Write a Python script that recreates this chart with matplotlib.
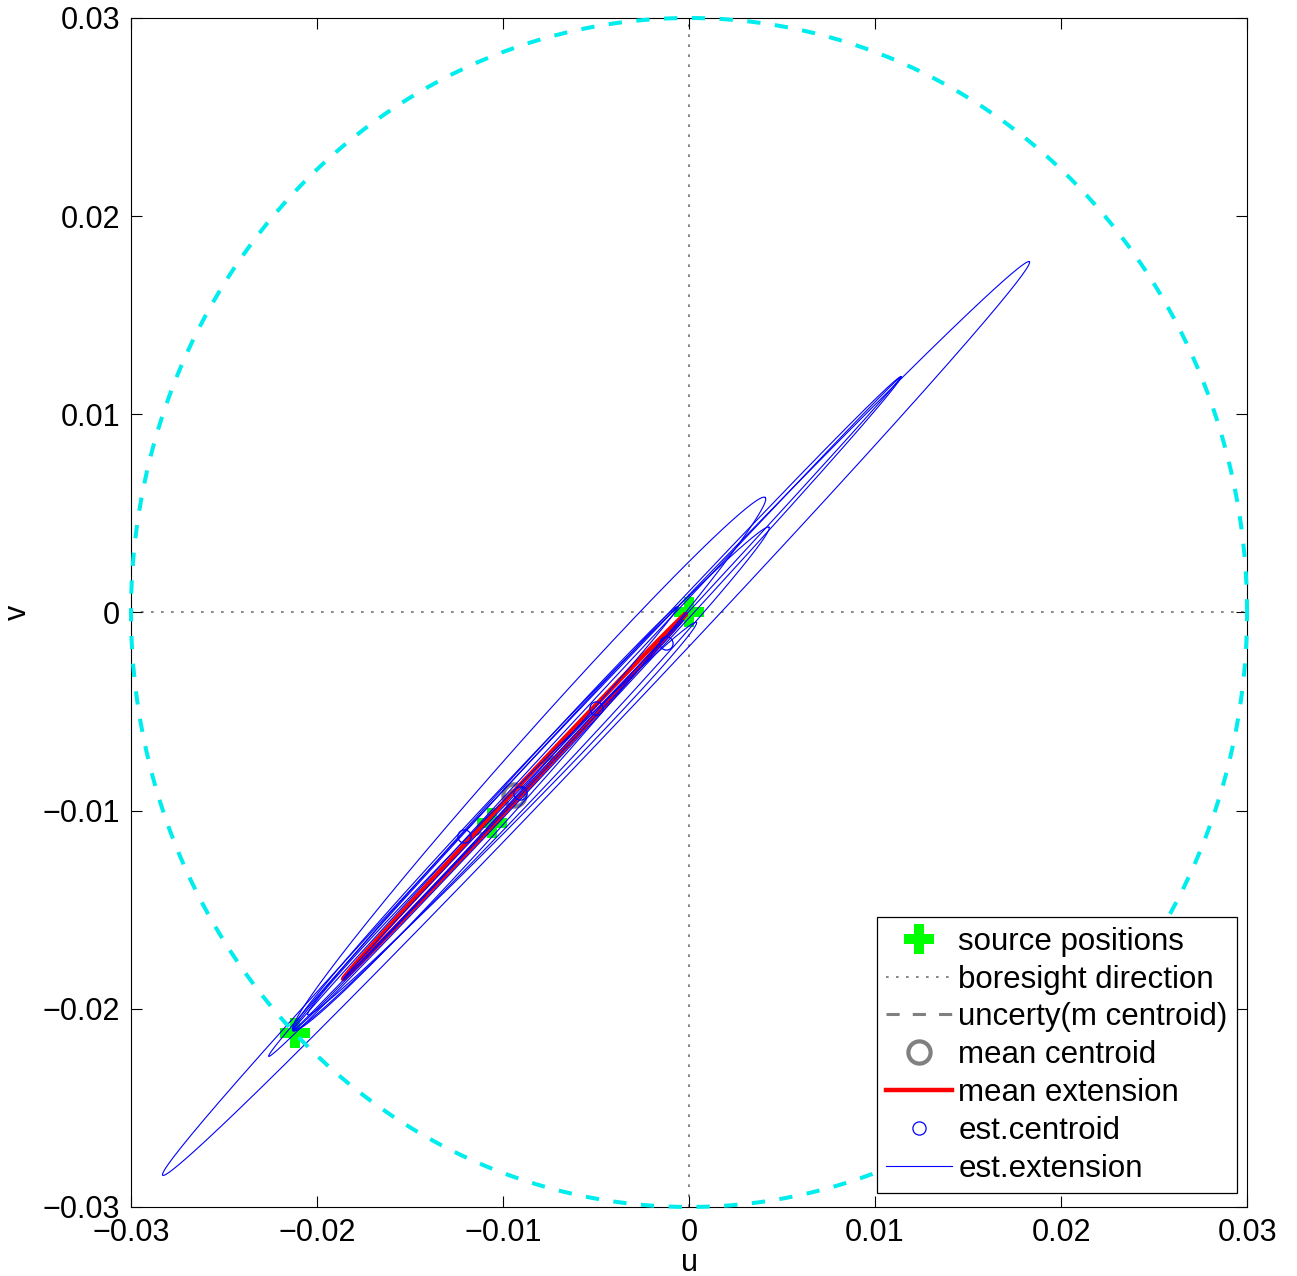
import numpy as np
import matplotlib
matplotlib.use('Agg')
import matplotlib.pyplot as plt

plt.rcParams['font.family'] = ['Liberation Sans', 'DejaVu Sans']

# ---------------- data ----------------
source_u = [0.0, -0.0106, -0.0212]
source_v = [0.0, -0.0106, -0.0212]

boresight_u = [-0.03, 0.03]
boresight_v = [-0.03, 0.03]

fov_radius = 0.03

mean_centroid_u = [-0.0094]
mean_centroid_v = [-0.0092]

# uncertainty of mean centroid (ellipse given by its two tips and semi-minor axis)
uncert_tip_u = [-0.0115, -0.0073]
uncert_tip_v = [-0.0112, -0.0073]
uncert_minor = 0.00025

# mean extension ellipse
mean_ext_tip_u = [-0.0186, -0.0002]
mean_ext_tip_v = [-0.0185, -0.0001]
mean_ext_minor = 0.0002

# estimated centroids
est_centroid_u = [-0.00124, -0.0050, -0.0091, -0.0121]
est_centroid_v = [-0.00154, -0.0048, -0.0091, -0.0113]

# estimated extensions: lower-left tip, upper-right tip, semi-minor axis
est_ext_u1 = [-0.0283, -0.0226, -0.0213, -0.0213, -0.0213, -0.0186, -0.0213, -0.0205]
est_ext_v1 = [-0.0284, -0.0224, -0.0211, -0.0211, -0.0211, -0.0185, -0.0211, -0.0203]
est_ext_u2 = [0.0183, 0.0114, 0.0114, 0.0041, 0.0043, -0.0003, -0.0006, 0.0004]
est_ext_v2 = [0.0177, 0.0119, 0.0119, 0.0058, 0.0043, -0.0004, 0.0003, -0.0005]
est_ext_minor = [0.00095, 0.0005, 0.00025, 0.0011, 0.0008, 0.00012, 0.0004, 0.0006]

tick_vals = [-0.03, -0.02, -0.01, 0.0, 0.01, 0.02, 0.03]
tick_labels = ['\u22120.03', '\u22120.02', '\u22120.01', '0', '0.01', '0.02', '0.03']


def ellipse_from_tips(u1, v1, u2, v2, b, n=600):
    cu, cv = (u1 + u2) / 2.0, (v1 + v2) / 2.0
    a = np.hypot(u2 - u1, v2 - v1) / 2.0
    th = np.arctan2(v2 - v1, u2 - u1)
    t = np.linspace(0, 2 * np.pi, n)
    x = a * np.cos(t)
    y = b * np.sin(t)
    return cu + x * np.cos(th) - y * np.sin(th), cv + x * np.sin(th) + y * np.cos(th)


FS = 22

fig = plt.figure(figsize=(12.97, 12.76), dpi=100)
ax = fig.add_axes([0.101, 0.0541, 0.8605, 0.9318])

# boresight direction
ax.plot(boresight_u, [0, 0], color='0.45', lw=1.2, linestyle=(0, (1.6, 4.4)),
        zorder=1, label='boresight direction')
ax.plot([0, 0], boresight_v, color='0.45', lw=1.2, linestyle=(0, (1.6, 4.4)), zorder=1)

# source positions
ax.plot(source_u, source_v, linestyle='none', marker='P', ms=21, mew=0,
        color=(0, 1, 0), zorder=2, label='source positions')

# mean centroid
ax.plot(mean_centroid_u, mean_centroid_v, linestyle='none', marker='o', ms=16,
        mfc='none', mec='0.5', mew=3, zorder=3, label='mean centroid')

# uncertainty of mean centroid
uu, uv = ellipse_from_tips(uncert_tip_u[0], uncert_tip_v[0], uncert_tip_u[1], uncert_tip_v[1], uncert_minor)
ax.plot(uu, uv, color='0.5', lw=2.2, linestyle=(0, (4.3, 4.3)), zorder=3,
        label='uncerty(m centroid)')

# mean extension
mu, mv = ellipse_from_tips(mean_ext_tip_u[0], mean_ext_tip_v[0], mean_ext_tip_u[1], mean_ext_tip_v[1], mean_ext_minor)
ax.plot(mu, mv, color=(1, 0, 0), lw=3.2, zorder=4, label='mean extension')

# estimated centroids
ax.plot(est_centroid_u, est_centroid_v, linestyle='none', marker='o', ms=9.5,
        mfc='none', mec=(0, 0, 1), mew=0.9, zorder=5, label='est.centroid')

# estimated extensions
for i in range(len(est_ext_u1)):
    eu, ev = ellipse_from_tips(est_ext_u1[i], est_ext_v1[i], est_ext_u2[i], est_ext_v2[i], est_ext_minor[i])
    ax.plot(eu, ev, color=(0, 0, 1), lw=0.8, zorder=5,
            label='est.extension' if i == 0 else None)

# field of view circle
t = np.linspace(0, 2 * np.pi, 800)
ax.plot(fov_radius * np.cos(t), fov_radius * np.sin(t), color=(0.0, 0.93, 0.93),
        lw=2.9, linestyle=(0, (3.3, 3.6)), zorder=6, clip_on=False)

ax.set_xlim(-0.03, 0.03)
ax.set_ylim(-0.03, 0.03)
ax.set_xticks(tick_vals)
ax.set_xticklabels(tick_labels)
ax.set_yticks(tick_vals)
ax.set_yticklabels(tick_labels)
ax.tick_params(direction='in', length=8, width=0.8, top=True, right=True,
               labelsize=FS, pad=8, colors='black')
for s in ax.spines.values():
    s.set_linewidth(0.8)
ax.set_xlabel('u', fontsize=FS, labelpad=0)
ax.set_ylabel('v', fontsize=FS, labelpad=7)

handles, labels = ax.get_legend_handles_labels()
order = ['source positions', 'boresight direction', 'uncerty(m centroid)',
         'mean centroid', 'mean extension', 'est.centroid', 'est.extension']
hmap = dict(zip(labels, handles))
leg = ax.legend([hmap[k] for k in order], order, loc='lower right',
                bbox_to_anchor=(0.991, 0.0118), borderaxespad=0,
                fontsize=22.5, frameon=True, fancybox=False, framealpha=1,
                edgecolor='black', handlelength=2.1, handletextpad=0.2,
                labelspacing=0.25, borderpad=0.3)
leg.get_frame().set_linewidth(0.9)
leg.set_zorder(10)

fig.savefig('out.png', dpi=100)
